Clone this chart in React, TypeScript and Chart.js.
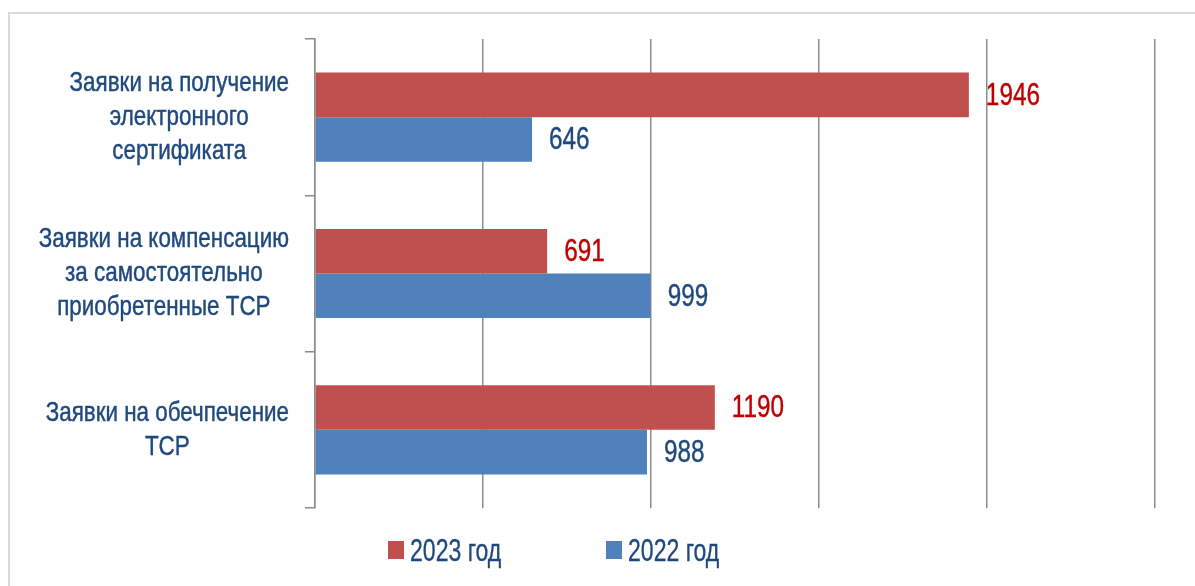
import React, { useEffect, useRef } from "react";
import { Chart, registerables } from "chart.js";

Chart.register(...registerables);

const categories: string[][] = [
  ["Заявки на получение", "электронного", "сертификата"],
  ["Заявки на компенсацию", "за самостоятельно", "приобретенные ТСР"],
  ["Заявки на обечпечение", "ТСР"],
];
const seriesNames = ["2023 год", "2022 год"];
const values2023 = [1946, 691, 1190];
const values2022 = [646, 999, 988];
const axisMax = 2500;
const axisStep = 500;

const FONT = '"Liberation Sans", Arial, sans-serif';
const RED = "#C0504D";
const BLUE = "#4F81BD";
const RED_TEXT = "#C00000";
const DARK_BLUE = "#1F497D";
const GRID = "#8c8c8c";

const CAT_SX = 0.8;
const VAL_SX = 0.76;
const LEG_SX = 0.72;

function narrowText(ctx: CanvasRenderingContext2D, text: string, x: number, y: number, sx: number) {
  ctx.save();
  ctx.translate(x, y);
  ctx.scale(sx, 1);
  ctx.lineWidth = 0.45;
  ctx.strokeStyle = ctx.fillStyle;
  ctx.lineJoin = "round";
  ctx.strokeText(text, 0, 0);
  ctx.fillText(text, 0, 0);
  ctx.restore();
}

const categoryLabelsPlugin = {
  id: "categoryLabels",
  afterDraw(chart: any) {
    const ctx = chart.ctx;
    const y = chart.scales.y;
    const lineH = 34;
    ctx.save();
    ctx.font = `28px ${FONT}`;
    ctx.fillStyle = DARK_BLUE;
    ctx.textAlign = "center";
    ctx.textBaseline = "middle";
    const rightEdge = y.right - 26;
    categories.forEach((lines, i) => {
      const cy = y.getPixelForValue(i);
      const w = Math.max(...lines.map((l) => ctx.measureText(l).width)) * CAT_SX;
      const cx = rightEdge - w / 2;
      const top = cy - ((lines.length - 1) * lineH) / 2;
      lines.forEach((l, j) => narrowText(ctx, l, cx, top + j * lineH, CAT_SX));
    });
    ctx.restore();
  },
};

const valueLabelsPlugin = {
  id: "valueLabels",
  afterDatasetsDraw(chart: any) {
    const ctx = chart.ctx;
    ctx.save();
    ctx.font = `32px ${FONT}`;
    ctx.textAlign = "left";
    ctx.textBaseline = "middle";
    chart.data.datasets.forEach((ds: any, di: number) => {
      const meta = chart.getDatasetMeta(di);
      ctx.fillStyle = di === 0 ? RED_TEXT : DARK_BLUE;
      meta.data.forEach((bar: any, i: number) => {
        narrowText(ctx, String(ds.data[i]), bar.x + 17, bar.y + 1, VAL_SX);
      });
    });
    ctx.restore();
  },
};

export default function App() {
  const ref = useRef<HTMLCanvasElement | null>(null);

  useEffect(() => {
    if (!ref.current) return;
    const chart = new Chart(ref.current, {
      type: "bar",
      data: {
        labels: categories.map((c) => c.join(" ")),
        datasets: [
          { label: seriesNames[0], data: values2023, backgroundColor: RED },
          { label: seriesNames[1], data: values2022, backgroundColor: BLUE },
        ],
      },
      options: {
        indexAxis: "y",
        animation: false,
        responsive: false,
        maintainAspectRatio: false,
        devicePixelRatio: 1,
        layout: { padding: { top: 39, bottom: 78, left: 0, right: 40 } },
        datasets: { bar: { barPercentage: 1, categoryPercentage: 0.57 } } as any,
        plugins: { legend: { display: false }, tooltip: { enabled: false } },
        scales: {
          x: {
            min: 0,
            max: axisMax,
            ticks: { display: false, stepSize: axisStep },
            grid: { color: GRID, lineWidth: 1.5, drawTicks: false },
            border: { display: false },
          },
          y: {
            ticks: { display: false },
            grid: { drawOnChartArea: false, drawTicks: true, tickLength: 10, color: GRID, lineWidth: 1.5 },
            border: { display: true, color: GRID, width: 1.5 },
            afterFit: (scale: any) => {
              scale.width = 315;
            },
          },
        },
      },
      plugins: [categoryLabelsPlugin, valueLabelsPlugin],
    });
    return () => chart.destroy();
  }, []);

  const legendItem = (color: string, text: string, left: number) => (
    <div style={{ position: "absolute", left, top: 532, display: "flex", alignItems: "center", whiteSpace: "nowrap" }}>
      <span style={{ display: "inline-block", width: 16, height: 18, background: color, marginRight: 6 }} />
      <span
        style={{
          display: "inline-block",
          fontFamily: FONT,
          fontSize: 32,
          color: DARK_BLUE,
          lineHeight: "36px",
          WebkitTextStroke: `0.35px ${DARK_BLUE}`,
          transform: `scaleX(${LEG_SX})`,
          transformOrigin: "left center",
        }}
      >
        {text}
      </span>
    </div>
  );

  return (
    <div style={{ position: "fixed", left: 0, top: 0, width: 1195, height: 586, overflow: "hidden", background: "#fff" }}>
      <div
        style={{
          position: "absolute",
          left: 8,
          top: 12,
          width: 1400,
          height: 800,
          borderLeft: "2px solid #d9d9d9",
          borderTop: "2px solid #d9d9d9",
        }}
      />
      <canvas ref={ref} width={1195} height={586} style={{ position: "absolute", left: 0, top: 0 }} />
      {legendItem(RED, seriesNames[0], 388)}
      {legendItem(BLUE, seriesNames[1], 606)}
    </div>
  );
}
